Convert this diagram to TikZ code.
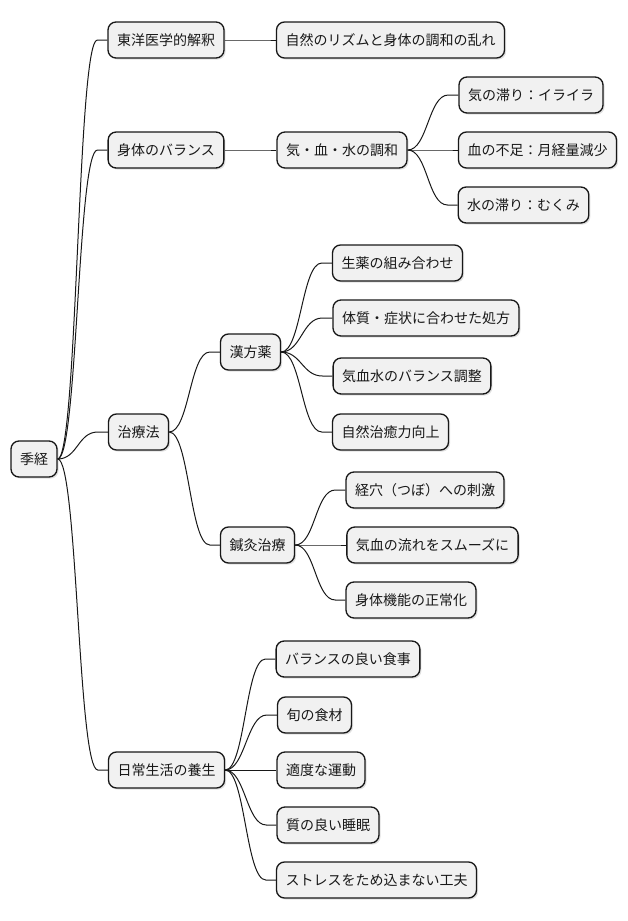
\documentclass[tikz,border=0pt]{standalone}
\usepackage{fontspec}
\setmainfont{Noto Sans CJK JP}
\usetikzlibrary{calc,shadows}
\definecolor{boxfill}{HTML}{F1F1F1}
\definecolor{boxline}{HTML}{181818}
\tikzset{
  topic/.style={draw=boxline,fill=boxfill,line width=1pt,rounded corners=6pt,minimum height=27pt,inner xsep=6.75pt,text=boxline,font=\fontsize{10.5}{12}\selectfont,drop shadow={shadow xshift=1.2pt,shadow yshift=-1.2pt,fill=black,opacity=0.12}},
  branch/.style={draw=boxline,line width=0.75pt},
}
% curved connector from parent to child
\newcommand\mmlink[2]{\draw[branch] (#1.east) .. controls ($(#1.east)+(20,0)$) and ($(#2.west)+(-30,0)$) .. ($(#2.west)+(-10,0)$) -- (#2.west);}

\begin{document}
\begin{tikzpicture}[x=0.75pt,y=-0.75pt]
\useasboundingbox (0,0) rectangle (628,921);
\node[topic] (root) at (34,459) {季経};
% level 1
\node[topic] (toyo) at (166,40) {東洋医学的解釈};
\node[topic] (karada) at (166,150) {身体のバランス};
\node[topic] (chiryo) at (138.5,432) {治療法};
\node[topic] (yojo) at (166.5,770) {日常生活の養生};
% level 2
\node[topic] (shizen) at (390.5,40) {自然のリズムと身体の調和の乱れ};
\node[topic] (kiketsu) at (342,150) {気・血・水の調和};
\node[topic] (kampo) at (250.5,352) {漢方薬};
\node[topic] (shinkyu) at (257.5,545) {鍼灸治療};
\node[topic] (shokuji) at (348,659) {バランスの良い食事};
\node[topic] (shun) at (314.5,715) {旬の食材};
\node[topic] (undo) at (321,770) {適度な運動};
\node[topic] (suimin) at (328,825) {質の良い睡眠};
\node[topic] (stress) at (376.5,880) {ストレスをため込まない工夫};
% level 3
\node[topic] (kitai) at (531,95) {気の滞り：イライラ};
\node[topic] (ketsu) at (537.5,150) {血の不足：月経量減少};
\node[topic] (mizu) at (523.5,205) {水の滞り：むくみ};
\node[topic] (shoyaku) at (397.5,263) {生薬の組み合わせ};
\node[topic] (taishitsu) at (426,318) {体質・症状に合わせた処方};
\node[topic] (kekki) at (412,376) {気血水のバランス調整};
\node[topic] (chiyu) at (390.5,432) {自然治癒力向上};
\node[topic] (keiketsu) at (425,490) {経穴（つぼ）への刺激};
\node[topic] (nagare) at (432.5,545) {気血の流れをスムーズに};
\node[topic] (kino) at (411,600) {身体機能の正常化};
% connectors
\foreach \p/\c in {root/toyo,root/karada,root/chiryo,root/yojo,toyo/shizen,karada/kiketsu,kiketsu/kitai,kiketsu/ketsu,kiketsu/mizu,chiryo/kampo,chiryo/shinkyu,kampo/shoyaku,kampo/taishitsu,kampo/kekki,kampo/chiyu,shinkyu/keiketsu,shinkyu/nagare,shinkyu/kino,yojo/shokuji,yojo/shun,yojo/undo,yojo/suimin,yojo/stress}{\mmlink{\p}{\c}}
\end{tikzpicture}
\end{document}
